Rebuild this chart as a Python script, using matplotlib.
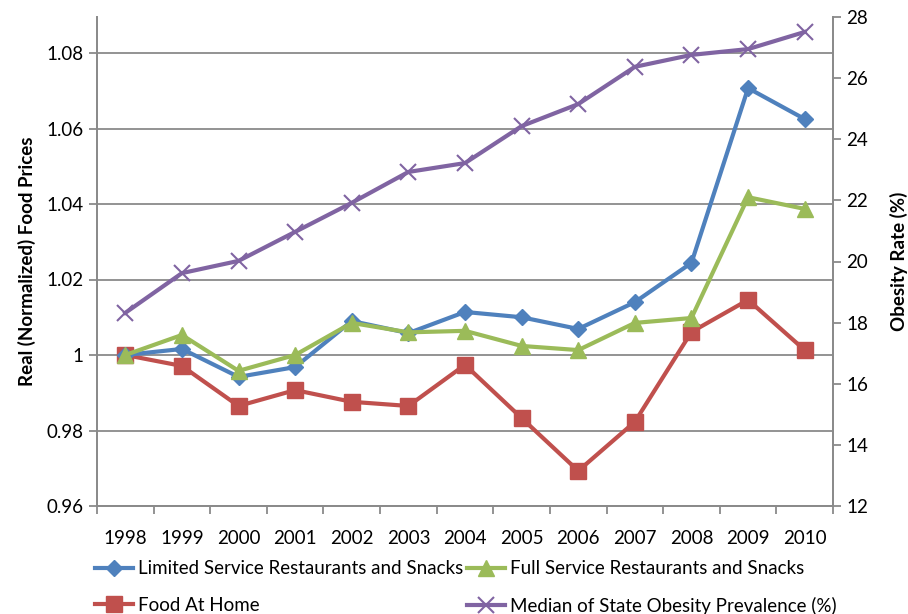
import matplotlib
matplotlib.use("Agg")
import matplotlib.pyplot as plt
import numpy as np

years = ["1998", "1999", "2000", "2001", "2002", "2003", "2004",
         "2005", "2006", "2007", "2008", "2009", "2010"]
limited = [1.000, 1.0016, 0.9942, 0.9968, 1.009, 1.0058, 1.0114,
           1.010, 1.0069, 1.014, 1.0244, 1.0707, 1.0625]
full = [1.000, 1.0053, 0.9958, 1.000, 1.0085, 1.006, 1.0064,
        1.0024, 1.0013, 1.0085, 1.0098, 1.0418, 1.0387]
home = [1.000, 0.9971, 0.9865, 0.9907, 0.9876, 0.9865, 0.9974,
        0.9833, 0.9693, 0.9823, 1.0061, 1.0146, 1.0013]
obesity = [18.32, 19.62, 20.02, 20.97, 21.92, 22.93, 23.22,
           24.43, 25.15, 26.37, 26.76, 26.95, 27.51]

left_ticks = [0.96, 0.98, 1.00, 1.02, 1.04, 1.06, 1.08]
left_labels = ["0.96", "0.98", "1", "1.02", "1.04", "1.06", "1.08"]
right_ticks = [12, 14, 16, 18, 20, 22, 24, 26, 28]

plt.rcParams["font.family"] = ["Lato", "DejaVu Sans"]
GRAY = "#8a8a8a"

W, H = 908, 614
fig = plt.figure(figsize=(W / 100, H / 100), dpi=100)
ax = fig.add_axes([97 / W, (H - 506) / H, (833 - 97) / W, (506 - 17) / H])
ax2 = ax.twinx()

x = np.arange(len(years))
lw = 3
h1, = ax.plot(x, limited, color="#4F81BD", lw=lw, marker="D", ms=8,
              label="Limited Service Restaurants and Snacks", zorder=4)
h2, = ax.plot(x, full, color="#9BBB59", lw=lw, marker="^", ms=11,
              label="Full Service Restaurants and Snacks", zorder=5)
h3, = ax.plot(x, home, color="#C0504D", lw=lw, marker="s", ms=11,
              label="Food At Home", zorder=3)
h4, = ax2.plot(x, obesity, color="#8064A2", lw=lw, marker="x", ms=12, mew=1.5,
               label="Median of State Obesity Prevalence (%)")

ax.set_xlim(-0.5, len(years) - 0.5)
ax.set_ylim(0.96, 0.96 + 489 / 3775)
ax.set_yticks(left_ticks)
ax.set_yticklabels(left_labels)
ax.yaxis.grid(True, color=GRAY, lw=1.3)
ax.set_axisbelow(True)
ax2.set_ylim(12, 28)
ax2.set_yticks(right_ticks)

ax.set_xticks(x)
ax.set_xticklabels(years)
ax.tick_params(axis="x", which="major", length=0, pad=17)
ax.set_xticks(np.arange(-0.5, len(years)), minor=True)
ax.tick_params(axis="x", which="minor", length=6, width=1.3, color=GRAY)

for a in (ax, ax2):
    a.tick_params(axis="y", length=6, width=1.3, color=GRAY, labelsize=13.5)
    a.tick_params(axis="x", labelsize=13.5)
    for s in a.spines.values():
        s.set_color(GRAY)
        s.set_linewidth(1.3)
    a.spines["top"].set_visible(False)

ax.set_ylabel("Real (Normalized) Food Prices", fontsize=13.5, fontweight="bold", labelpad=8)
ax2.set_ylabel("Obesity Rate (%)", fontsize=13.5, fontweight="bold", rotation=90, labelpad=16)

fig.legend(handles=[h1, h3, h2, h4], ncol=2, frameon=False, fontsize=13.5,
           loc="lower left", bbox_to_anchor=(82 / W, -0.023), borderaxespad=0.3,
           handlelength=2.0, columnspacing=0.2, handletextpad=0.3, labelspacing=1.05)

fig.savefig("out.png", dpi=100)
